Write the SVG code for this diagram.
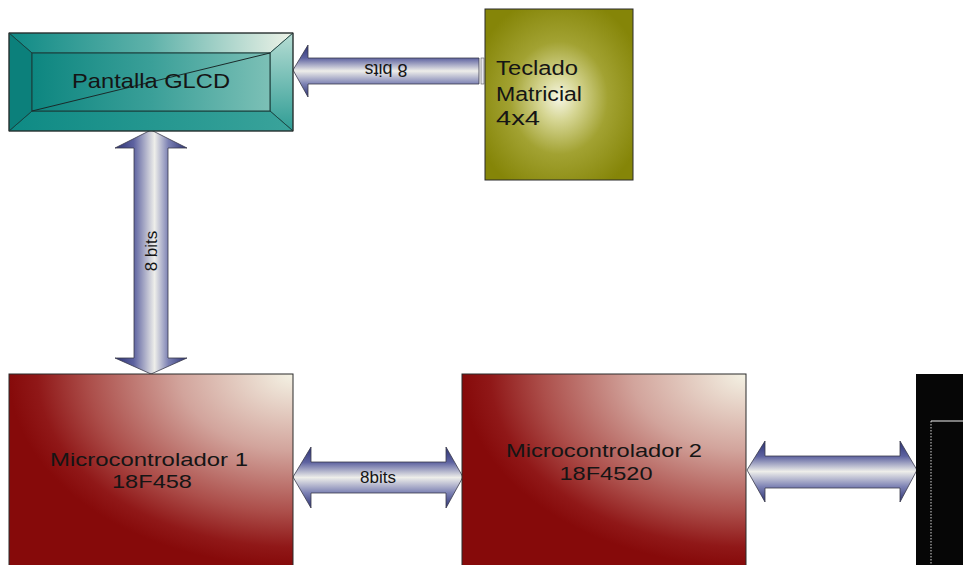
<svg xmlns="http://www.w3.org/2000/svg" width="963" height="565" viewBox="0 0 963 565">
<defs>
<style>
.lbl{font-family:"Liberation Sans",Arial,sans-serif;fill:#151515}
.box{stroke:#2a2a2a;stroke-width:1}
.arrow{stroke:#3a3a4a;stroke-width:0.8;stroke-linejoin:miter}
</style>
<linearGradient id="hgrad" x1="0" y1="0" x2="0" y2="1">
<stop offset="0" stop-color="#2c3274"/>
<stop offset="0.25" stop-color="#5d62a0"/>
<stop offset="0.5" stop-color="#eeeeea"/>
<stop offset="0.75" stop-color="#7d82b4"/>
<stop offset="1" stop-color="#2c3274"/>
</linearGradient>
<linearGradient id="vgrad" x1="0" y1="0" x2="1" y2="0">
<stop offset="0" stop-color="#2c3274"/>
<stop offset="0.26" stop-color="#5d62a0"/>
<stop offset="0.55" stop-color="#eeeeea"/>
<stop offset="0.74" stop-color="#7d82b4"/>
<stop offset="1" stop-color="#2c3274"/>
</linearGradient>
<radialGradient id="mcgrad" cx="1" cy="0" r="1" fx="1" fy="0">
<stop offset="0" stop-color="#f4f2e4"/>
<stop offset="0.4" stop-color="#d2a49c"/>
<stop offset="0.72" stop-color="#ac4e4a"/>
<stop offset="0.9" stop-color="#901818"/>
<stop offset="1" stop-color="#860a0a"/>
</radialGradient>
<radialGradient id="tecgrad" cx="0.5" cy="0.52" r="0.6">
<stop offset="0" stop-color="#f6f6e4"/>
<stop offset="0.22" stop-color="#d6d694"/>
<stop offset="0.55" stop-color="#a2a232"/>
<stop offset="1" stop-color="#858508"/>
</radialGradient>
<linearGradient id="topbev" x1="0" y1="0" x2="1" y2="0">
<stop offset="0" stop-color="#0f8a85"/>
<stop offset="0.5" stop-color="#5fb2aa"/>
<stop offset="1" stop-color="#eef3e8"/>
</linearGradient>
<linearGradient id="rightbev" x1="0" y1="0" x2="0" y2="1">
<stop offset="0" stop-color="#b7ddd4"/>
<stop offset="1" stop-color="#2e9c94"/>
</linearGradient>
<linearGradient id="botbev" x1="0" y1="0" x2="1" y2="0">
<stop offset="0" stop-color="#0e8a84"/>
<stop offset="1" stop-color="#3aa39b"/>
</linearGradient>
<linearGradient id="innergrad" x1="0" y1="0" x2="1" y2="0">
<stop offset="0" stop-color="#0d8680"/>
<stop offset="0.5" stop-color="#3a9f98"/>
<stop offset="1" stop-color="#7cc0b6"/>
</linearGradient>
</defs>

<g id="connectors">
<path class="arrow" fill="url(#hgrad)" d="M293,70 L308,45 L308,58 L479,58 L479,84 L308,84 L308,97 Z"/>
<rect x="481" y="58" width="3" height="26" fill="#e8e8f0" stroke="#555" stroke-width="0.6"/>
<text class="lbl" x="386" y="76" font-size="18" text-anchor="middle" transform="rotate(180 386 70)">8 bits</text>
<path class="arrow" fill="url(#vgrad)" d="M151,130 L187,148 L168,148 L168,358 L187,358 L151,374 L115,358 L134,358 L134,148 L115,148 Z"/>
<text class="lbl" x="151" y="257" font-size="17" text-anchor="middle" transform="rotate(-90 151 251)">8 bits</text>
<path class="arrow" fill="url(#hgrad)" d="M293,477 L311,447 L311,462 L446,462 L446,447 L463,477 L446,508 L446,493 L311,493 L311,508 Z"/>
<text class="lbl" x="378" y="483" font-size="17" text-anchor="middle">8bits</text>
<path class="arrow" fill="url(#hgrad)" d="M747,470 L765,441 L765,456 L900,456 L900,441 L917,470 L900,502 L900,488 L765,488 L765,502 Z"/>
</g>

<g id="pantalla">
<rect x="9" y="33" width="284" height="98" fill="#128c86"/>
<polygon points="9,33 293,33 270,53 32,53" fill="url(#topbev)" stroke="#1a3a38" stroke-width="0.8"/>
<polygon points="293,33 293,131 270,111 270,53" fill="url(#rightbev)" stroke="#1a3a38" stroke-width="0.8"/>
<polygon points="9,131 293,131 270,111 32,111" fill="url(#botbev)" stroke="#1a3a38" stroke-width="0.8"/>
<polygon points="9,33 32,53 32,111 9,131" fill="#0c807b" stroke="#1a3a38" stroke-width="0.8"/>
<rect x="32" y="53" width="238" height="58" fill="url(#innergrad)" stroke="#1a3a38" stroke-width="1"/>
<line x1="32" y1="111" x2="270" y2="53" stroke="#1a2a2a" stroke-width="1"/>
<rect class="box" x="9" y="33" width="284" height="98" fill="none"/>
<text class="lbl" x="72" y="88" font-size="21" textLength="158" lengthAdjust="spacingAndGlyphs">Pantalla GLCD</text>
</g>

<g id="teclado">
<rect class="box" x="485" y="9" width="148" height="171" fill="url(#tecgrad)"/>
<text class="lbl" x="496" y="75" font-size="20" textLength="82" lengthAdjust="spacingAndGlyphs">Teclado</text>
<text class="lbl" x="496" y="101" font-size="20" textLength="86" lengthAdjust="spacingAndGlyphs">Matricial</text>
<text class="lbl" x="496" y="125" font-size="20" textLength="44" lengthAdjust="spacingAndGlyphs">4x4</text>
</g>

<g id="micro1">
<rect class="box" x="9" y="374" width="284" height="192" fill="url(#mcgrad)"/>
<text class="lbl" x="149" y="466" font-size="19" text-anchor="middle" textLength="198" lengthAdjust="spacingAndGlyphs">Microcontrolador 1</text>
<text class="lbl" x="152" y="488" font-size="19" text-anchor="middle" textLength="80" lengthAdjust="spacingAndGlyphs">18F458</text>
</g>

<g id="micro2">
<rect class="box" x="462" y="374" width="284" height="192" fill="url(#mcgrad)"/>
<text class="lbl" x="604" y="457" font-size="19" text-anchor="middle" textLength="196" lengthAdjust="spacingAndGlyphs">Microcontrolador 2</text>
<text class="lbl" x="606" y="480" font-size="19" text-anchor="middle" textLength="93" lengthAdjust="spacingAndGlyphs">18F4520</text>
</g>

<g id="blackbox">
<rect x="916" y="374" width="48" height="192" fill="#060606"/>
<line x1="931" y1="421" x2="963" y2="421" stroke="#f0f0f0" stroke-width="1"/>
<line x1="931" y1="421" x2="931" y2="565" stroke="#d8d8d8" stroke-width="1" stroke-dasharray="1.5,1.5"/>
</g>
</svg>
